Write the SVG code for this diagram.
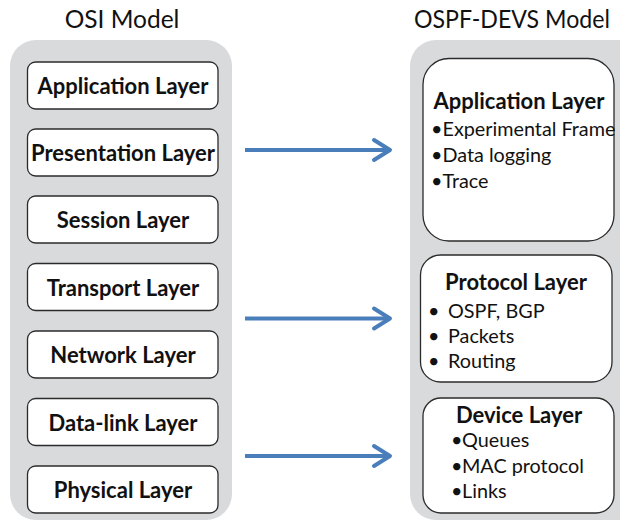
<svg xmlns="http://www.w3.org/2000/svg" width="620" height="522" viewBox="0 0 620 522">
<defs>
<style>
.panel{fill:#d9dadc;}
.box{fill:#fff;stroke:#2b2b2b;stroke-width:1.3;}
.title{font-family:Lato,"Liberation Sans",sans-serif;font-size:24.5px;fill:#111;text-anchor:middle;}
.lbl{font-family:Lato,"Liberation Sans",sans-serif;font-size:22px;font-weight:bold;fill:#111;text-anchor:middle;}
.item{font-family:Lato,"Liberation Sans",sans-serif;font-size:19.8px;fill:#111;}
.arrow{stroke:#4a7ebb;stroke-width:4;fill:none;}
.head{stroke:#4a7ebb;stroke-width:4;fill:none;stroke-linecap:round;stroke-linejoin:round;}
</style>
</defs>
<rect width="620" height="522" fill="#fff"/>
<text class="title" x="122" y="28">OSI Model</text>
<text class="title" x="512" y="28" textLength="196" lengthAdjust="spacingAndGlyphs">OSPF-DEVS Model</text>
<g id="osi-panel"><rect class="panel" x="10" y="40" width="222" height="480" rx="26"/></g>
<g id="ospf-panel"><rect class="panel" x="410" y="40" width="240" height="480" rx="26"/></g>
<g id="osi-application"><rect class="box" x="27.5" y="62" width="190.5" height="47" rx="8"/><text class="lbl" x="123" y="94">Application Layer</text></g>
<g id="osi-presentation"><rect class="box" x="27.5" y="129" width="190.5" height="47" rx="8"/><text class="lbl" x="123" y="161">Presentation Layer</text></g>
<g id="osi-session"><rect class="box" x="27.5" y="196" width="190.5" height="47" rx="8"/><text class="lbl" x="123" y="228">Session Layer</text></g>
<g id="osi-transport"><rect class="box" x="27.5" y="263.5" width="190.5" height="47" rx="8"/><text class="lbl" x="123" y="295.5">Transport Layer</text></g>
<g id="osi-network"><rect class="box" x="27.5" y="331" width="190.5" height="47" rx="8"/><text class="lbl" x="123" y="363">Network Layer</text></g>
<g id="osi-datalink"><rect class="box" x="27.5" y="398.5" width="190.5" height="47" rx="8"/><text class="lbl" x="123" y="430.5">Data-link Layer</text></g>
<g id="osi-physical"><rect class="box" x="27.5" y="466" width="190.5" height="47" rx="8"/><text class="lbl" x="123" y="498">Physical Layer</text></g>
<g id="ospf-application"><rect class="box" x="423" y="58.5" width="191" height="182.5" rx="26"/><text class="lbl" x="519" y="109">Application Layer</text>
<text class="item" x="431" y="136">•Experimental Frame</text>
<text class="item" x="431" y="162">•Data logging</text>
<text class="item" x="431" y="188">•Trace</text></g>
<g id="ospf-protocol"><rect class="box" x="420.5" y="255" width="191.5" height="127" rx="20"/><text class="lbl" x="516" y="290">Protocol Layer</text>
<text class="item" x="428" y="318">•</text><text class="item" x="448" y="318">OSPF, BGP</text>
<text class="item" x="428" y="343">•</text><text class="item" x="448" y="343">Packets</text>
<text class="item" x="428" y="368">•</text><text class="item" x="448" y="368">Routing</text></g>
<g id="ospf-device"><rect class="box" x="423" y="398" width="191" height="115" rx="18"/><text class="lbl" x="519" y="423">Device Layer</text>
<text class="item" x="451" y="447">•</text><text class="item" x="462" y="447">Queues</text>
<text class="item" x="451" y="473">•</text><text class="item" x="462" y="473">MAC protocol</text>
<text class="item" x="451" y="498">•</text><text class="item" x="462" y="498">Links</text></g>
<g id="connectors">
<line class="arrow" x1="245" y1="150" x2="390" y2="150"/><polyline class="head" points="374,140 390,150 374,160"/>
<line class="arrow" x1="245" y1="318.5" x2="390" y2="318.5"/><polyline class="head" points="374,308.5 390,318.5 374,328.5"/>
<line class="arrow" x1="245" y1="456" x2="390" y2="456"/><polyline class="head" points="374,446 390,456 374,466"/>
</g>
</svg>
